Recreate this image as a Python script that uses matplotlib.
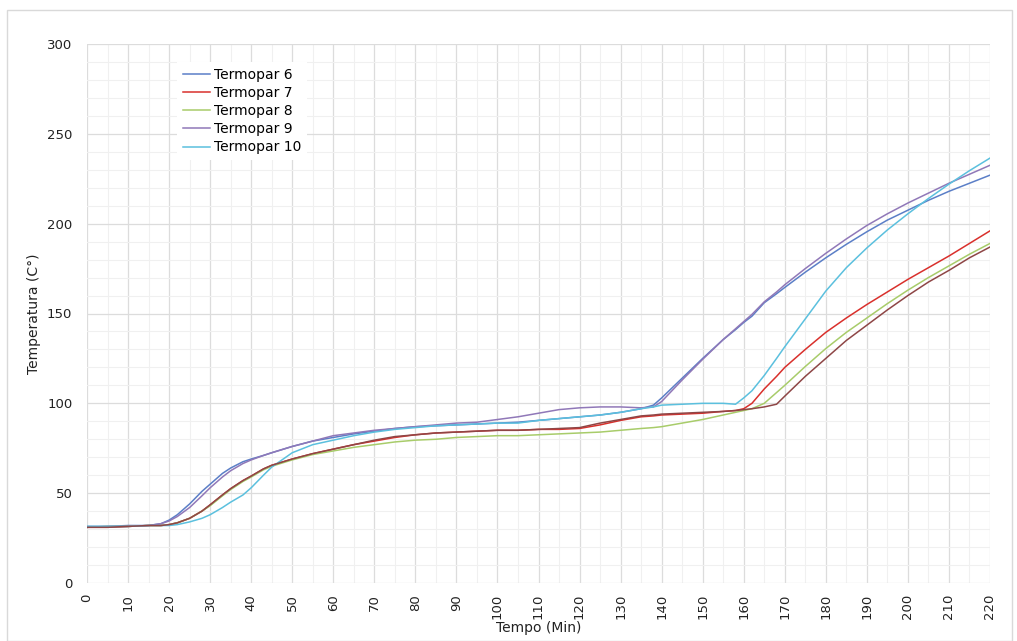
import matplotlib.pyplot as plt
from matplotlib.patches import Rectangle
from matplotlib.ticker import MultipleLocator

# Tempo (min) comum a todas as séries
tempo = [0, 5, 10, 15, 18, 20, 22, 25, 28, 30, 33, 35, 38, 40, 43, 45, 50, 55, 60, 65,
         70, 75, 80, 85, 90, 95, 100, 105, 110, 115, 120, 125, 130, 135, 138, 140, 145,
         150, 155, 158, 160, 162, 165, 168, 170, 175, 180, 185, 190, 195, 200, 205, 210,
         215, 220]

termopar6 = [31.5, 31.5, 32, 32, 33, 35, 38, 44, 51, 55, 61, 64, 67.5, 69, 71, 72.5, 76, 79,
             81, 83, 84.5, 86, 87, 87.5, 88, 88.5, 89, 89.5, 90.5, 91.5, 92.5, 93.5, 95, 97,
             99, 103, 114, 125, 135.5, 141, 145, 148.5, 156, 161, 164.5, 173, 181, 188.5,
             195.5, 202, 207.5, 213, 218, 222.5, 227]
termopar7 = [31, 31, 31.5, 32, 32, 32.5, 33.5, 36, 40, 43.5, 49, 52.5, 57, 59.5, 63.5, 65.5,
             69, 72, 74.5, 77, 79, 81, 82.5, 83.5, 84, 84.5, 85, 85, 85.5, 85.5, 86, 88,
             90.5, 92.5, 93, 93.5, 94, 94.5, 95.5, 96, 97, 100, 108, 115, 120, 130, 139.5,
             147.5, 155, 162, 169, 175.5, 182, 189, 196]
termopar8 = [31, 31.5, 31.5, 32, 32, 32.5, 33.5, 36, 40, 43, 48.5, 52, 56.5, 59, 63, 65,
             68.5, 71.5, 73.5, 75.5, 77, 78.5, 79.5, 80, 81, 81.5, 82, 82, 82.5, 83, 83.5,
             84, 85, 86, 86.5, 87, 89, 91, 93.5, 95, 96, 97, 100, 106, 110, 120.5, 130.5,
             139.5, 147.5, 155.5, 163, 170, 176.5, 183, 189]
termopar9 = [31, 31.5, 31.5, 32, 33, 34.5, 37, 42, 48.5, 53, 59, 62.5, 66.5, 68.5, 71, 72.5,
             76, 79, 82, 83.5, 85, 86, 87, 88, 89, 89.5, 91, 92.5, 94.5, 96.5, 97.5, 98, 98,
             97.5, 98, 101, 113, 124.5, 135.5, 141.5, 145.5, 149.5, 156.5, 162, 166,
             175, 183.5, 191.5, 199, 205.5, 211.5, 217, 222.5, 227.5, 232.5]
termopar10 = [31.5, 31.5, 31.5, 32, 32, 32, 32.5, 34, 36, 38, 42, 45, 49, 53, 60, 64.5, 72.5,
              77, 79.5, 82, 84, 85.5, 86.5, 87.5, 88, 88.5, 89, 89, 90.5, 91.5, 92.5, 93.5,
              95, 97, 98, 99, 99.5, 100, 100, 99.5, 103, 107, 115.5, 125, 131.5, 147, 162.5,
              175.5, 186.5, 196.5, 205.5, 214, 222, 229.5, 236.5]
# série sem legenda (linha castanha)
serie_extra = [31, 31, 31.5, 32, 32, 32.5, 33.5, 36, 40, 43.5, 49, 52.5, 57, 59.5, 63.5,
               65.5, 69, 72, 74.5, 77, 79.5, 81.5, 82.5, 83.5, 84, 84.5, 85, 85, 85.5, 86,
               86.5, 89, 91, 93, 93.5, 94, 94.5, 95, 95.5, 96, 96.5, 97, 98, 99.5, 104, 115,
               125, 135, 143.5, 152, 160, 167.5, 174, 181, 187]

plt.rcParams['font.family'] = ['DejaVu Sans']

fig = plt.figure(figsize=(10.17, 6.41), dpi=100)
ax = fig.add_axes([87 / 1017, 1 - 583 / 641, 903 / 1017, 539 / 641])

# moldura do gráfico
fig.patches.append(Rectangle((7 / 1017, 0), 1005 / 1017, 631 / 641, transform=fig.transFigure,
                             fill=False, edgecolor='#d9d9d9', linewidth=1.0))

lw = 1.1
ax.plot(tempo, termopar6, color='#5b7fc7', lw=lw, label='Termopar 6')
ax.plot(tempo, termopar7, color='#d9302c', lw=lw, label='Termopar 7')
ax.plot(tempo, termopar8, color='#a8cc6a', lw=lw, label='Termopar 8')
ax.plot(tempo, termopar9, color='#9078b8', lw=lw, label='Termopar 9')
ax.plot(tempo, termopar10, color='#5bc0de', lw=lw, label='Termopar 10')
ax.plot(tempo, serie_extra, color='#8e4646', lw=lw)

ax.set_xlim(0, 220)
ax.set_ylim(0, 300)
ax.xaxis.set_major_locator(MultipleLocator(10))
ax.xaxis.set_minor_locator(MultipleLocator(5))
ax.yaxis.set_major_locator(MultipleLocator(50))
ax.yaxis.set_minor_locator(MultipleLocator(10))
ax.grid(True, which='major', color='#dcdcdc', lw=0.9)
ax.grid(True, which='minor', color='#f0f0f0', lw=0.8)
ax.set_axisbelow(True)
for s in ax.spines.values():
    s.set_visible(False)
ax.tick_params(which='both', length=0)
ax.tick_params(axis='x', labelrotation=90, pad=8, labelsize=9.5, colors='#222222')
ax.tick_params(axis='y', pad=10.5, labelsize=9.5, colors='#222222')

ax.set_xlabel('Tempo (Min)', fontsize=10, labelpad=1, color='#222222')
ax.set_ylabel('Temperatura (C°)', fontsize=10, labelpad=4, color='#222222')

leg = ax.legend(loc='upper left', bbox_to_anchor=(0.092, 0.979), fontsize=10,
                frameon=True, facecolor='white', edgecolor='none', framealpha=1,
                handlelength=2.0, handletextpad=0.25, labelspacing=0.3, borderpad=0.4)
leg.get_frame().set_boxstyle('square', pad=0.0)

fig.savefig('out.png', dpi=100)
